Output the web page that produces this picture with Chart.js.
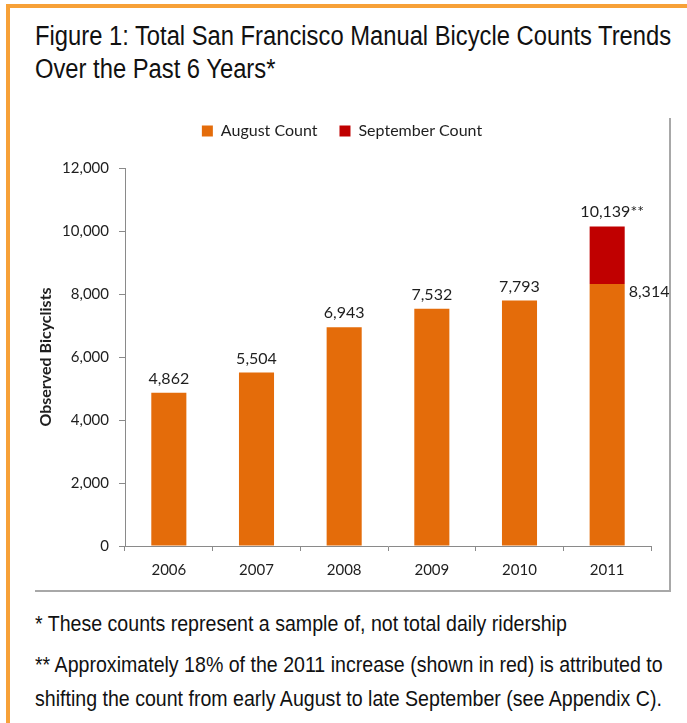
<!DOCTYPE html>
<html>
<head>
<meta charset="utf-8">
<script src="https://cdn.jsdelivr.net/npm/chart.js@4.4.1/dist/chart.umd.min.js"></script>
<style>
  body { margin: 0; width: 687px; height: 723px; background: #fff; position: relative; overflow: hidden; }
  .edge-top { position: absolute; left: 6px; top: 4px; width: 681px; height: 4px; background: #f7a138; }
  .edge-left { position: absolute; left: 6px; top: 4px; width: 4px; height: 719px; background: #f7a138; }
  .box-right { position: absolute; left: 669px; top: 118px; width: 2px; height: 474px; background: #a8a8a8; }
  .box-bottom { position: absolute; left: 35px; top: 590px; width: 636px; height: 2px; background: #a8a8a8; }
  .txt { position: absolute; left: 35px; font-family: "Liberation Sans", Arial, sans-serif; color: #111;
         white-space: nowrap; transform-origin: 0 0; }
  .title { font-size: 27px; line-height: 33px; transform: scaleX(0.88); }
  .note { font-size: 22px; line-height: 26px; transform: scaleX(0.89); }
  #wrap { position: absolute; left: 20px; top: 101px; width: 650px; height: 481px; }
</style>
</head>
<body>
<div class="edge-top"></div>
<div class="edge-left"></div>
<div class="txt title" style="top:20px">Figure 1: Total San Francisco Manual Bicycle Counts Trends</div>
<div class="txt title" style="top:53px">Over the Past 6 Years*</div>
<div class="box-right"></div>
<div class="box-bottom"></div>
<div id="wrap"><canvas id="chart" width="650" height="481"></canvas></div>
<div class="txt note" style="top:611px">* These counts represent a sample of, not total daily ridership</div>
<div class="txt note" style="top:652px">** Approximately 18% of the 2011 increase (shown in red) is attributed to</div>
<div class="txt note" style="top:686px">shifting the count from early August to late September (see Appendix C).</div>
<script>
const years          = ["2006", "2007", "2008", "2009", "2010", "2011"];
const augustCounts   = [4862, 5504, 6943, 7532, 7793, 8314];
const septemberExtra = [null, null, null, null, null, 1825]; // 10,139 total in 2011
const totalMark      = "**";
const yMin = 0, yMax = 12000, yStep = 2000;

const ORANGE = "#e46c0a";
const RED    = "#c00000";
const AXIS   = "#8a8a8a";
const INK    = "#1e1e1e";

function fmt(n) {
  return new Intl.NumberFormat("en-US").format(n);
}

Chart.defaults.font.family = "Lato, 'Open Sans', sans-serif";
Chart.defaults.color = INK;

// extra room between the legend and the plot
const legendGap = {
  id: "legendGap",
  afterInit(chart) {
    const fit = chart.legend.fit;
    chart.legend.fit = function () {
      fit.call(this);
      this.height += 19;
    };
  }
};

// value labels: above each bar, 2011 gets the August value on the side and the total on top
const valueLabels = {
  id: "valueLabels",
  afterDatasetsDraw(chart) {
    const ctx = chart.ctx;
    const aug = chart.getDatasetMeta(0).data;
    const sep = chart.getDatasetMeta(1).data;
    ctx.save();
    ctx.font = "16px Lato";
    ctx.fillStyle = INK;
    ctx.textBaseline = "alphabetic";
    aug.forEach((bar, i) => {
      const extra = septemberExtra[i];
      if (extra) {
        ctx.textAlign = "left";
        ctx.fillText(fmt(augustCounts[i]), bar.x + bar.width / 2 + 4, bar.y + 13);
        ctx.textAlign = "center";
        ctx.fillText(fmt(augustCounts[i] + extra) + totalMark, sep[i].x + 5, sep[i].y - 10);
      } else {
        ctx.textAlign = "center";
        ctx.fillText(fmt(augustCounts[i]), bar.x, bar.y - 9);
      }
    });
    ctx.restore();
  }
};

new Chart(document.getElementById("chart"), {
  type: "bar",
  data: {
    labels: years,
    datasets: [
      { label: "August Count", data: augustCounts, backgroundColor: ORANGE,
        barPercentage: 0.4, categoryPercentage: 1 },
      { label: "September Count", data: septemberExtra, backgroundColor: RED,
        barPercentage: 0.4, categoryPercentage: 1 },
    ],
  },
  options: {
    responsive: false,
    animation: false,
    devicePixelRatio: 1,
    layout: { padding: { left: 13, right: 19, top: 0, bottom: 0 } },
    plugins: {
      legend: {
        position: "top",
        labels: { boxWidth: 11, boxHeight: 11, padding: 22, font: { size: 16 }, color: INK },
      },
      tooltip: { enabled: false },
    },
    scales: {
      x: {
        stacked: true,
        grid: { drawOnChartArea: false, drawTicks: true, tickLength: 5, color: AXIS },
        border: { color: AXIS, width: 1 },
        ticks: { font: { size: 15 }, padding: 10, color: INK },
        afterFit: s => { s.height = 36; },
      },
      y: {
        stacked: true,
        min: yMin,
        max: yMax,
        ticks: { stepSize: yStep, font: { size: 15 }, padding: 10, color: INK, callback: v => fmt(v) },
        grid: { drawOnChartArea: false, drawTicks: true, tickLength: 6, color: AXIS },
        border: { color: AXIS, width: 1 },
        title: { display: true, text: "Observed Bicyclists", font: { size: 16, weight: "bold" },
                 padding: { top: 3, bottom: 0 }, color: INK },
        afterFit: s => { s.width = 92; },
      },
    },
  },
  plugins: [legendGap, valueLabels],
});
</script>
</body>
</html>
